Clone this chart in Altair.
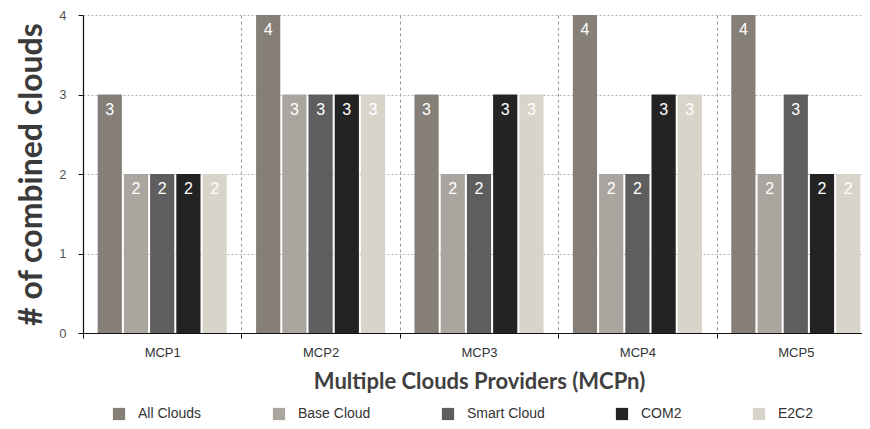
import altair as alt
import pandas as pd

groups = ["MCP1", "MCP2", "MCP3", "MCP4", "MCP5"]
series = ["All Clouds", "Base Cloud", "Smart Cloud", "COM2", "E2C2"]
all_clouds = [3, 4, 3, 4, 4]
base_cloud = [2, 3, 2, 2, 2]
smart_cloud = [2, 3, 2, 2, 3]
com2 = [2, 3, 3, 3, 2]
e2c2 = [2, 3, 3, 3, 2]
colors = ["#857f78", "#aaa59f", "#5e5e5e", "#232323", "#d9d4ca"]

values = [all_clouds, base_cloud, smart_cloud, com2, e2c2]
rows = []
for s, vals in zip(series, values):
    for g, v in zip(groups, vals):
        rows.append({"group": g, "series": s, "value": v})
df = pd.DataFrame(rows)

base = alt.Chart(df).encode(
    x=alt.X(
        "group:N", sort=groups,
        scale=alt.Scale(paddingInner=0, paddingOuter=0, range=[0, 792]),
        axis=alt.Axis(
            title="Multiple Clouds Providers (MCPn)",
            tickBand="extent", grid=True, gridDash=[3, 3], gridColor="#9a9a9a",
            labelAngle=0, labelFont="Liberation Sans", labelFontSize=13,
            labelColor="#333333", labelPadding=8, tickSize=5,
            titleFont="Lato", titleFontWeight="bold", titleFontSize=22,
            titleColor="#404040", titlePadding=12, titleX=396,
        ),
    ),
    xOffset=alt.XOffset("series:N", sort=series,
                        scale=alt.Scale(paddingInner=0.077, paddingOuter=0.56)),
    y=alt.Y(
        "value:Q", scale=alt.Scale(domain=[0, 4]),
        axis=alt.Axis(
            title="# of combined clouds", values=[0, 1, 2, 3, 4], format="d",
            grid=True, gridDash=[2, 2], gridColor="#b5b5b5",
            labelFont="Liberation Sans", labelFontSize=13, labelColor="#555555",
            labelPadding=12, tickSize=5,
            titleFont="Lato", titleFontWeight="bold", titleFontSize=32,
            titleColor="#3a3a3a", titlePadding=10,
        ),
    ),
)

bars = base.mark_bar().encode(
    color=alt.Color(
        "series:N", sort=series,
        scale=alt.Scale(domain=series, range=colors),
        legend=alt.Legend(
            title=None, orient="none", direction="horizontal", columns=5,
            legendX=29, legendY=392, symbolType="square", symbolSize=150,
            symbolStrokeWidth=0, columnPadding=70, labelOffset=12,
            labelFont="Liberation Sans", labelFontSize=14, labelColor="#333333",
            padding=0,
        ),
    )
)

text = base.mark_text(baseline="middle", dy=15, color="white", fontSize=16,
                      font="Liberation Sans").encode(text="value:Q")

chart = alt.layer(bars, text).properties(
    width=779, height=318,
    autosize=alt.AutoSizeParams(type="none"),
    padding={"left": 75, "top": 7, "right": 0, "bottom": 88},
).configure_view(
    stroke=None
).configure_axis(
    domainColor="#111111", tickColor="#111111", domainWidth=1.2
)

chart.save("out.html", embed_options={"renderer": "svg", "actions": False})
